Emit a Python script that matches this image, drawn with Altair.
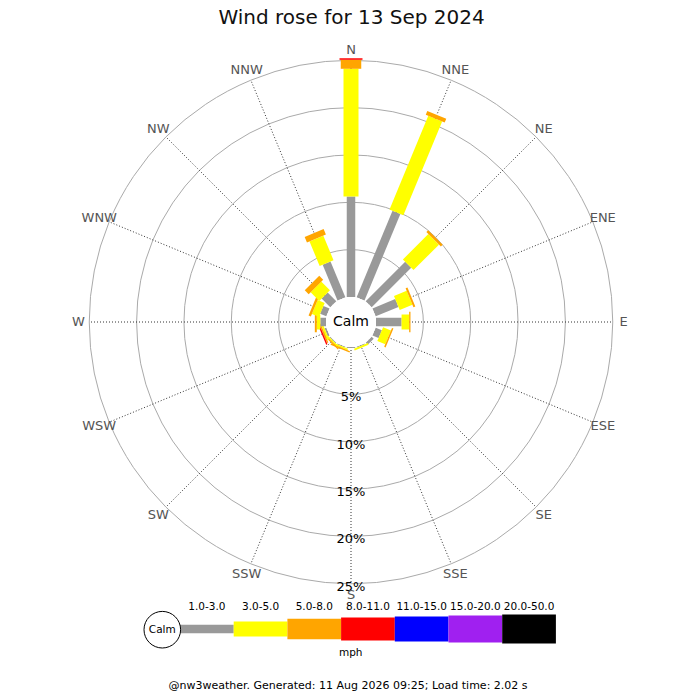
import altair as alt
import pandas as pd

title_text = "Wind rose for 13 Sep 2024"
footer_text = "@nw3weather. Generated: 11 Aug 2026 09:25; Load time: 2.02 s"

directions = ["N", "NNE", "NE", "ENE", "E", "ESE", "SE", "SSE",
              "S", "SSW", "SW", "WSW", "W", "WNW", "NW", "NNW"]
speed_bins = ["1.0-3.0", "3.0-5.0", "5.0-8.0", "8.0-11.0",
              "11.0-15.0", "15.0-20.0", "20.0-50.0"]
bin_colours = ["#999999", "#ffff00", "#ffa500", "#ff0000",
               "#0000ff", "#a020f0", "#000000"]
bin_widths = [8.5, 15, 20.5, 23, 25, 27, 29]

# % of the day per direction in each speed bin (mph); higher bins were empty
pct_1_3 = [10.6, 9.9, 5.9, 2.6, 2.7, 0.7, 0.3, 0.1, 0.1, 0.1, 0.1, 0.2, 0.6, 0.7, 1.3, 4.1]
pct_3_5 = [13.5, 10.7, 3.8, 1.45, 0.8, 0.9, 0.0, 0.2, 0.0, 0.15, 0.15, 0.2, 0.37, 0.8, 1.3, 2.8]
pct_5_8 = [0.95, 0.43, 0.27, 0.21, 0.14, 0.16, 0.0, 0.0, 0.0, 0.15, 0.15, 0.15, 0.21, 0.26, 0.58, 0.63]
pct_8_11 = [0.16, 0, 0, 0, 0, 0, 0, 0, 0, 0, 0, 0.15, 0, 0, 0, 0]

ring_pcts = [5, 10, 15, 20, 25]

# geometry (px): scale of the rose, calm circle, centre inside the plot area
K = 9.47
CALM_PX = 25
C = CALM_PX / K
W = H = 684
CX, CY = 343, 314

series = [pct_1_3, pct_3_5, pct_5_8, pct_8_11]
rows = []
for i, d in enumerate(directions):
    start = 0.0
    for j, s in enumerate(series):
        if s[i] > 0:
            rows.append({"dir": d, "angle": i * 22.5, "bin": speed_bins[j],
                         "width": bin_widths[j], "start": start, "end": start + s[i]})
        start += s[i]
bars = pd.DataFrame(rows)
spokes = pd.DataFrame({"dir": directions, "angle": [i * 22.5 for i in range(16)]})
rings = pd.DataFrame({"pct": ring_pcts, "label": [f"{p}%" for p in ring_pcts]})
legend = pd.DataFrame({"bin": speed_bins, "width": bin_widths, "idx": list(range(7))})

xs = alt.Scale(domain=[-CX / K, (W - CX) / K], nice=False, zero=False)
ys = alt.Scale(domain=[-(H - CY) / K, CY / K], nice=False, zero=False)
size_scale = alt.Scale(type="pow", exponent=2, domain=[0, 1], range=[0, (2 * K) ** 2])
colour_scale = alt.Scale(domain=speed_bins, range=bin_colours)
FONT = "DejaVu Sans"

def X(f):
    return alt.X(f, type="quantitative", scale=xs, axis=None)

def Y(f):
    return alt.Y(f, type="quantitative", scale=ys, axis=None)

rad = "datum.angle * PI / 180"

ring_layer = alt.Chart(rings).mark_point(
    shape="circle", filled=False, stroke="#aaaaaa", strokeWidth=1, opacity=1
).transform_calculate(cx="0", ru=f"datum.pct + {C}").encode(
    x=X("cx"), y=Y("cx"),
    size=alt.Size("ru:Q", scale=size_scale, legend=None),
)

spoke_layer = alt.Chart(spokes).mark_rule(
    color="#333333", strokeWidth=1, strokeDash=[1, 2]
).transform_calculate(
    x1=f"{C} * sin({rad})", y1=f"{C} * cos({rad})",
    x2=f"{25 + C} * sin({rad})", y2=f"{25 + C} * cos({rad})",
).encode(x=X("x1"), y=Y("y1"), x2="x2:Q", y2="y2:Q")

bar_layer = alt.Chart(bars).mark_rule(strokeCap="butt").transform_calculate(
    x1=f"(datum.start + {C}) * sin({rad})", y1=f"(datum.start + {C}) * cos({rad})",
    x2=f"(datum.end + {C}) * sin({rad})", y2=f"(datum.end + {C}) * cos({rad})",
).encode(
    x=X("x1"), y=Y("y1"), x2="x2:Q", y2="y2:Q",
    color=alt.Color("bin:N", scale=colour_scale, legend=None),
    strokeWidth=alt.StrokeWidth("width:Q", scale=None),
)

calm = pd.DataFrame({"label": ["Calm"], "ru": [C]})
calm_layer = alt.Chart(calm).mark_point(
    shape="circle", filled=True, fill="white", opacity=1, strokeWidth=0
).transform_calculate(cx="0").encode(
    x=X("cx"), y=Y("cx"), size=alt.Size("ru:Q", scale=size_scale, legend=None)
)
calm_text = alt.Chart(calm).mark_text(font=FONT, fontSize=14, color="black").transform_calculate(
    cx="0").encode(x=X("cx"), y=Y("cx"), text="label:N")

pct_text = alt.Chart(rings).mark_text(
    font=FONT, fontSize=13, color="black", baseline="middle", dy=3
).transform_calculate(cx="0", cy=f"-(datum.pct + {C})").encode(
    x=X("cx"), y=Y("cy"), text="label:N")

LABEL_R = 272.5 / K
dir_text = alt.Chart(spokes).mark_text(
    font=FONT, fontSize=13, color="#555555", baseline="middle"
).transform_calculate(
    lx=f"{LABEL_R} * sin({rad})", ly=f"{LABEL_R} * cos({rad})"
).encode(x=X("lx"), y=Y("ly"), text="dir:N")

# legend, laid out below the rose (px offsets from the rose centre)
LEG_X0, LEG_STEP, LEG_Y, LEG_LABEL_Y = -171, 53.7, -307, -284.7
leg_bars = alt.Chart(legend).mark_rule(strokeCap="butt").transform_calculate(
    x1=f"({LEG_X0} + datum.idx * {LEG_STEP}) / {K}",
    x2=f"({LEG_X0} + (datum.idx + 1) * {LEG_STEP}) / {K}",
    ly=f"{LEG_Y} / {K}",
).encode(
    x=X("x1"), x2="x2:Q", y=Y("ly"),
    color=alt.Color("bin:N", scale=colour_scale, legend=None),
    strokeWidth=alt.StrokeWidth("width:Q", scale=None),
)
leg_labels = alt.Chart(legend).mark_text(
    font=FONT, fontSize=10.5, color="black", baseline="middle"
).transform_calculate(
    lx=f"({LEG_X0} + (datum.idx + 0.5) * {LEG_STEP}) / {K}",
    ly=f"{LEG_LABEL_Y} / {K}",
).encode(x=X("lx"), y=Y("ly"), text="bin:N")

leg_calm = pd.DataFrame({"label": ["Calm"], "ru": [18.3 / K],
                         "cx": [-188.7 / K], "cy": [-307.7 / K]})
leg_calm_circle = alt.Chart(leg_calm).mark_point(
    shape="circle", filled=True, fill="white", stroke="black", strokeWidth=1, opacity=1
).encode(x=X("cx"), y=Y("cy"), size=alt.Size("ru:Q", scale=size_scale, legend=None))
leg_calm_text = alt.Chart(leg_calm).mark_text(
    font=FONT, fontSize=10.5, color="black", baseline="middle"
).encode(x=X("cx"), y=Y("cy"), text="label:N")

units = pd.DataFrame({"label": ["mph"], "cx": [-0.3 / K], "cy": [-331.3 / K]})
units_text = alt.Chart(units).mark_text(
    font=FONT, fontSize=10.5, color="black", baseline="middle"
).encode(x=X("cx"), y=Y("cy"), text="label:N")

title = alt.Chart(pd.DataFrame({"t": [title_text]})).mark_text(
    font=FONT, fontSize=20, color="#111111", baseline="alphabetic"
).encode(x=alt.value(343.6), y=alt.value(15.5), text="t:N")
footer = alt.Chart(pd.DataFrame({"t": [footer_text]})).mark_text(
    font=FONT, fontSize=11, color="black", baseline="alphabetic"
).encode(x=alt.value(340), y=alt.value(681), text="t:N")

chart = alt.layer(
    ring_layer, spoke_layer, bar_layer, calm_layer, calm_text, pct_text, dir_text,
    leg_bars, leg_labels, leg_calm_circle, leg_calm_text, units_text, title, footer,
).properties(
    width=W, height=H, padding=0, autosize=alt.AutoSizeParams(type="none")
).configure_view(stroke=None)

chart.save("out.html", embed_options={"renderer": "svg", "actions": False})
